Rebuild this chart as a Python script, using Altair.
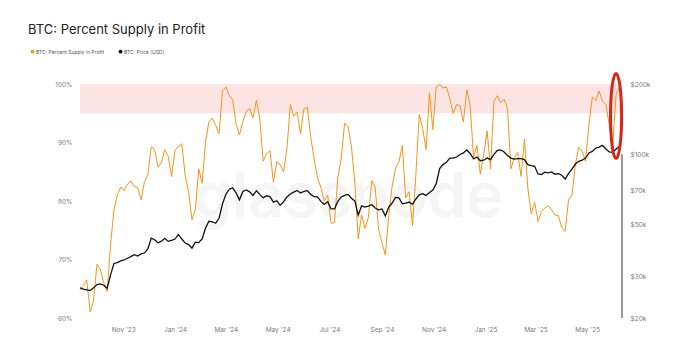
import altair as alt
import pandas as pd

# Sampling grid: one observation every 4 days
START = "2023-09-11"
N_POINTS = 160

# Percent of BTC supply in profit (%)
supply_pct = [
    64.8, 65.5, 66.5, 61.0, 63.0, 69.2, 68.3, 66.0, 64.5, 72.5,
    78.5, 81.0, 82.4, 81.8, 82.9, 83.4, 82.5, 82.3, 80.2, 83.3,
    84.5, 89.3, 88.8, 85.8, 86.6, 88.8, 87.6, 84.2, 88.7, 89.3,
    89.8, 84.4, 81.6, 76.8, 78.5, 85.5, 83.0, 90.2, 93.5, 94.2,
    92.9, 91.5, 98.8, 99.5, 98.0, 97.3, 93.2, 91.3, 93.6, 95.3,
    95.8, 94.2, 97.2, 94.0, 86.8, 88.1, 88.6, 83.2, 86.7, 86.2,
    85.0, 89.0, 96.5, 94.5, 95.2, 91.5, 95.8, 96.0, 91.0, 87.2,
    84.0, 82.3, 80.0, 81.0, 76.2, 76.3, 84.0, 87.3, 93.3, 92.7,
    89.3, 83.2, 73.5, 77.6, 75.3, 77.2, 83.5, 82.3, 75.2, 72.8,
    70.8, 77.5, 82.5, 85.6, 86.7, 89.5, 80.5, 81.6, 75.8, 84.5,
    94.8, 92.4, 88.8, 98.5, 92.2, 99.5, 99.9, 99.3, 99.5, 97.5,
    95.0, 96.5, 96.3, 93.5, 99.0, 96.2, 87.5, 89.5, 84.6, 88.0,
    92.0, 85.5, 97.0, 98.0, 96.8, 97.4, 95.8, 85.5, 87.4, 88.3,
    84.2, 90.6, 82.2, 77.8, 79.8, 76.5, 78.2, 78.8, 79.2, 78.5,
    77.6, 77.5, 75.5, 74.8, 80.2, 81.0, 86.2, 89.2, 88.5, 86.8,
    93.0, 97.8, 97.2, 98.8, 97.0, 96.5, 93.0, 89.3, 98.2, 99.5,
]

# BTC price (USD thousands)
price_k = [
    26.9, 26.6, 26.4, 26.2, 26.9, 27.8, 28.0, 27.6, 26.8, 30.5,
    34.2, 34.5, 35.1, 35.4, 36.0, 36.6, 37.3, 36.8, 37.6, 37.9,
    39.5, 43.9, 43.2, 41.9, 42.6, 43.8, 42.5, 42.9, 43.5, 45.5,
    43.5, 41.8, 41.2, 39.8, 42.2, 42.0, 43.5, 48.5, 51.8, 51.5,
    50.8, 53.5, 61.5, 67.5, 71.0, 72.0, 68.5, 64.0, 69.5, 70.5,
    69.2, 66.8, 70.0, 67.5, 65.2, 66.6, 66.0, 62.5, 63.4, 60.6,
    62.8, 65.8, 67.8, 69.0, 70.2, 68.4, 69.5, 70.0, 67.5, 66.0,
    65.9, 63.0, 61.2, 62.8, 58.6, 58.5, 63.0, 65.8, 66.8, 67.5,
    65.0, 63.3, 55.0, 60.3, 59.6, 60.2, 61.0, 59.0, 58.0, 58.5,
    54.6, 59.5, 62.0, 65.5, 65.3, 61.5, 62.0, 62.6, 61.2, 64.5,
    67.2, 68.0, 66.8, 68.7, 70.5, 75.0, 87.0, 90.5, 92.5, 96.5,
    96.5, 97.5, 100.0, 101.5, 104.5, 101.0, 95.8, 97.5, 94.0, 94.5,
    96.5, 95.0, 100.0, 104.0, 104.5, 102.5, 99.0, 96.5, 95.5, 96.0,
    96.0, 95.0, 90.5, 89.5, 89.0, 82.5, 82.0, 84.0, 83.5, 84.2,
    82.3, 82.8, 81.5, 78.5, 83.0, 86.5, 91.0, 93.5, 94.5, 96.5,
    101.5, 103.0, 106.5, 107.5, 109.5, 105.5, 102.5, 102.0, 105.5, 108.5,
]

dates = pd.date_range(START, periods=N_POINTS, freq="4D").strftime("%Y-%m-%d")

SUPPLY_NAME = "BTC: Percent Supply in Profit"
PRICE_NAME = "BTC: Price (USD)"
ORANGE = "#f7931a"
BLACK = "#111111"

df = pd.DataFrame({
    "date": dates,
    "supply": supply_pct,
    "price": [p * 1000 for p in price_k],
})

# Axis extents and reference values
X_START = alt.DateTime(year=2023, month=9, date=11)
X_END = alt.DateTime(year=2025, month=6, date=11)
PCT_TICKS = [60, 65, 70, 75, 80, 85, 90, 95, 100]
PRICE_TICKS = [20000, 30000, 50000, 70000, 100000, 200000]
ZONE_LOW, ZONE_HIGH = 95, 100
highlight = pd.DataFrame({"date": ["2025-06-04"], "price": [146000]})
edge_rule = pd.DataFrame({"date": ["2025-06-11"], "top": [100000], "bottom": [20000]})
zone = pd.DataFrame({"lo": [ZONE_LOW], "hi": [ZONE_HIGH]})

FONT = "Inter"
LABEL_COLOR = "#7a7a7a"

x_enc = alt.X(
    "date:T",
    title=None,
    scale=alt.Scale(domain=[X_START, X_END], nice=False),
    axis=alt.Axis(
        format="%b '%y",
        tickCount={"interval": "month", "step": 2},
        ticks=False,
        domain=False,
        grid=False,
        labelFontSize=6.5,
        labelColor=LABEL_COLOR,
        labelFont=FONT,
        labelPadding=8,
    ),
)

pct_scale = alt.Scale(domain=[60, 100], nice=False, zero=False)
price_scale = alt.Scale(type="log", domain=[20000, 200000], nice=False)

color_enc = alt.Color(
    "series:N",
    scale=alt.Scale(domain=[SUPPLY_NAME, PRICE_NAME], range=[ORANGE, BLACK]),
    legend=alt.Legend(
        title=None,
        orient="none",
        legendX=-50,
        legendY=-35,
        direction="horizontal",
        symbolType="circle",
        symbolSize=3,
        symbolStrokeWidth=2.2,
        labelFontSize=5,
        labelFont=FONT,
        labelColor="#555555",
        labelOffset=1,
        columnPadding=10,
    ),
)

band = alt.Chart(zone).mark_rect(color="#fde4e4").encode(
    x=alt.X("x0:T", scale=alt.Scale(domain=[X_START, X_END], nice=False)),
    x2="x1:T",
    y=alt.Y("lo:Q", scale=pct_scale),
    y2="hi:Q",
).transform_calculate(
    x0="datetime(2023, 8, 11)", x1="datetime(2025, 5, 11)"
)

watermark = alt.Chart(zone).mark_text(
    text="glassnode", font=FONT, fontSize=62, fontWeight=600,
    color="#000000", opacity=0.035, align="center", baseline="middle",
).encode(x=alt.value(268), y=alt.value(114))

supply_line = alt.Chart(df).mark_line(strokeWidth=1).encode(
    x=x_enc,
    y=alt.Y(
        "supply:Q",
        title=None,
        scale=pct_scale,
        axis=alt.Axis(
            orient="left",
            values=PCT_TICKS,
            labelExpr="datum.value + '%'",
            ticks=False,
            domain=False,
            grid=False,
            labelFontSize=6.5,
            labelColor=LABEL_COLOR,
            labelFont=FONT,
            labelPadding=8,
        ),
    ),
    color=color_enc,
).transform_calculate(series=f"'{SUPPLY_NAME}'")

price_line = alt.Chart(df).mark_line(strokeWidth=1.3).encode(
    x="date:T",
    y=alt.Y(
        "price:Q",
        title=None,
        scale=price_scale,
        axis=alt.Axis(
            orient="right",
            values=PRICE_TICKS,
            labelExpr="'$' + datum.value / 1000 + 'k'",
            ticks=False,
            domain=False,
            grid=False,
            labelFontSize=6.5,
            labelColor=LABEL_COLOR,
            labelFont=FONT,
            labelPadding=8,
        ),
    ),
    color=color_enc,
).transform_calculate(series=f"'{PRICE_NAME}'")

end_rule = alt.Chart(edge_rule).mark_rule(color="#333333", strokeWidth=1).encode(
    x="date:T",
    y=alt.Y("top:Q", scale=price_scale),
    y2="bottom:Q",
)

ellipse_path = "M0,-1 A0.13,1 0 1,1 0,1 A0.13,1 0 1,1 0,-1 Z"
ring = alt.Chart(highlight).mark_point(
    shape=ellipse_path, size=7225, filled=False,
    stroke="#d8261c", strokeWidth=3, opacity=1,
).encode(
    x="date:T",
    y=alt.Y("price:Q", scale=price_scale),
)

left = alt.layer(band, watermark, supply_line)
right = alt.layer(price_line, end_rule, ring)

chart = alt.layer(left, right).resolve_scale(y="independent").properties(
    width=542,
    height=234,
    autosize="none",
    padding={"left": 80, "top": 84, "right": 54, "bottom": 37},
    background="white",
    title=alt.TitleParams(
        SUPPLY_NAME,
        anchor="start",
        dx=-2,
        offset=12,
        fontSize=13,
        fontWeight="normal",
        font=FONT,
        color="#222222",
    ),
).configure_view(stroke=None)

chart.save("out.html", embed_options={"renderer": "svg", "actions": False})
